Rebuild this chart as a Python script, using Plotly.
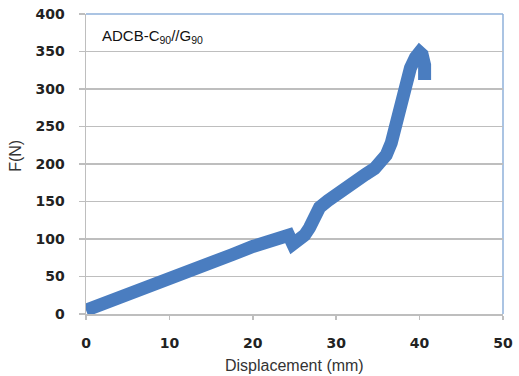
import plotly.graph_objects as go

# Data
displacement_mm = [0, 1, 2.5, 5, 7.5, 10, 12.5, 15, 17.5, 20, 22, 23.5, 24.3, 24.8, 25.4, 26.2,
                   26.8, 27.4, 28, 29, 30.5, 32, 33.5, 34.6, 35.4, 36, 36.6, 37.3, 38.2,
                   38.9, 39.5, 40.0, 40.3, 40.6, 40.6]
force_N = [5, 9, 15, 25, 35, 45, 56, 67, 79, 90, 97, 101, 105, 93, 97, 105,
           115, 130, 142, 151, 161, 174, 186, 194, 203, 212, 228, 262, 300,
           328, 342, 349, 346, 332, 312]

x_ticks = [0, 10, 20, 30, 40, 50]
y_ticks = [0, 50, 100, 150, 200, 250, 300, 350, 400]

line_color = "#4A7DC0"
grid_color = "#BEBEBE"
frame_color = "#8FB0DA"

fig = go.Figure()
fig.add_trace(go.Scatter(
    x=displacement_mm, y=force_N, mode="lines",
    line=dict(color=line_color, width=13, shape="linear"),
    hoverinfo="skip", showlegend=False,
))

tick_font = dict(family="DejaVu Sans", size=14, color="#222222", weight="bold")

fig.update_layout(
    width=519, height=376,
    margin=dict(l=86, r=16, t=14, b=62),
    paper_bgcolor="white", plot_bgcolor="white",
    font=dict(family="Liberation Sans", color="#333333"),
    xaxis=dict(range=[0, 50], tickvals=x_ticks, showgrid=False, zeroline=False,
               showline=True, linecolor=grid_color, linewidth=1.5,
               ticks="outside", ticklen=4, tickcolor=grid_color, tickwidth=1.5,
               tickfont=tick_font, ticklabelstandoff=12, automargin=False),
    yaxis=dict(range=[0, 400], tickvals=y_ticks, showgrid=True, gridcolor=grid_color,
               gridwidth=1.5, zeroline=False,
               showline=True, linecolor=grid_color, linewidth=1.5,
               ticks="outside", ticklen=6, tickcolor=grid_color, tickwidth=1.5,
               tickfont=tick_font, ticklabelstandoff=11, automargin=False),
    shapes=[
        dict(type="line", xref="paper", yref="paper", x0=0, x1=1, y0=1, y1=1,
             line=dict(color=frame_color, width=1.5), layer="below"),
        dict(type="line", xref="paper", yref="paper", x0=1, x1=1, y0=0, y1=1,
             line=dict(color=frame_color, width=1.5), layer="below"),
    ],
    annotations=[
        dict(text="ADCB-C<sub>90</sub>//G<sub>90</sub>", xref="paper", yref="paper",
             x=0.033, y=0.925, xanchor="left", yanchor="middle", showarrow=False,
             font=dict(family="Liberation Sans", size=15, color="#111111")),
        dict(text="F(N)", xref="paper", yref="paper", x=-0.168, y=0.527,
             xanchor="center", yanchor="middle", textangle=-90, showarrow=False,
             font=dict(family="Liberation Sans", size=16, color="#333333")),
        dict(text="Displacement (mm)", xref="paper", yref="paper", x=0.501, y=-0.173,
             xanchor="center", yanchor="middle", showarrow=False,
             font=dict(family="Liberation Sans", size=16, color="#333333")),
    ],
)

fig.write_html(
    "out.html",
    config={"displayModeBar": False, "staticPlot": True},
    post_script="document.body.style.margin='0px';document.body.style.overflow='hidden';",
)
